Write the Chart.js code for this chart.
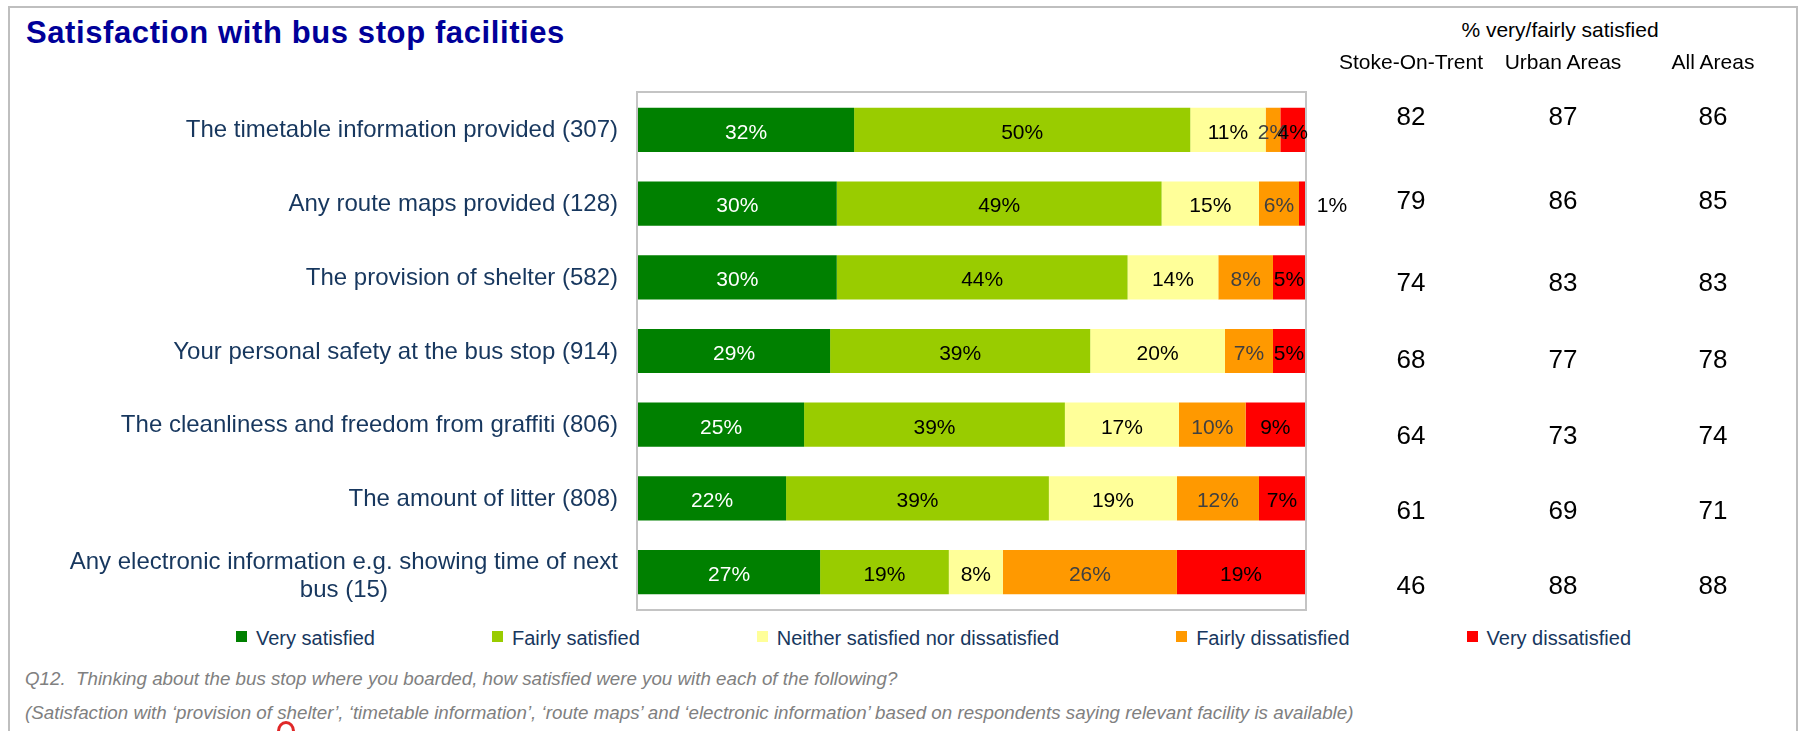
<!DOCTYPE html>
<html>
<head>
<meta charset="utf-8">
<script src="https://cdn.jsdelivr.net/npm/chart.js@4.4.1/dist/chart.umd.min.js"></script>
<style>
  html, body { margin: 0; padding: 0; }
  body {
    width: 1804px; height: 731px; overflow: hidden; position: relative;
    background: #fff; font-family: "Liberation Sans", Arial, sans-serif;
  }
  #frame {
    position: absolute; left: 8px; top: 6px; width: 1786px; height: 760px;
    border-left: 2px solid #bfbfbf; border-top: 2px solid #bfbfbf; border-right: 2px solid #bfbfbf;
  }
  #title {
    position: absolute; left: 26px; top: 17px; line-height: 1;
    font-size: 31px; font-weight: bold; color: #000099; letter-spacing: 0.6px; white-space: nowrap;
  }
  #chart { position: absolute; left: 0; top: 0; }
  .cell { position: absolute; width: 240px; text-align: center; line-height: 1; white-space: nowrap; color: #000; }
  .hdr { font-size: 21px; }
  .num { font-size: 26px; }
  #legend {
    position: absolute; left: 236px; top: 628px; display: flex; gap: 117px;
    font-size: 20px; line-height: 1; color: #17375e; white-space: nowrap;
  }
  #legend .item { display: flex; align-items: center; }
  #legend .box { width: 11px; height: 11px; margin-right: 9px; margin-top: -3px; }
  .note { position: absolute; left: 25px; font-size: 18.75px; line-height: 1; font-style: italic; color: #808080; white-space: nowrap; }
  #mark {
    position: absolute; left: 277px; top: 721px; width: 12px; height: 14px;
    border: 3px solid #e02828; border-radius: 50%;
  }
</style>
</head>
<body>
<div id="frame"></div>
<div id="title">Satisfaction with bus stop facilities</div>
<canvas id="chart" width="1360" height="620"></canvas>
<div id="table"></div>
<div id="legend"></div>
<div class="note" style="top:670px">Q12.&nbsp; Thinking about the bus stop where you boarded, how satisfied were you with each of the following?</div>
<div class="note" style="top:704px">(Satisfaction with ‘provision of shelter’, ‘timetable information’, ‘route maps’ and ‘electronic information’ based on respondents saying relevant facility is available)</div>
<div id="mark"></div>

<script>
// categories (base sizes in brackets)
const categories = [
  "The timetable information provided (307)",
  "Any route maps provided (128)",
  "The provision of shelter (582)",
  "Your personal safety at the bus stop (914)",
  "The cleanliness and freedom from graffiti (806)",
  "The amount of litter (808)",
  ["Any electronic information e.g. showing time of next", "bus (15)"]
];

// shares in % (labels show them rounded)
const verySatisfied      = [32.4, 29.8, 29.8, 28.8, 24.9, 22.2, 27.3];
const fairlySatisfied    = [50.4, 48.7, 43.6, 39.0, 39.1, 39.4, 19.3];
const neither            = [11.3, 14.6, 13.6, 20.2, 17.1, 19.2, 8.1];
const fairlyDissatisfied = [2.2, 6.0, 8.2, 7.2, 10.0, 12.3, 26.1];
const veryDissatisfied   = [3.7, 0.9, 4.8, 4.8, 8.9, 6.9, 19.2];

// % very/fairly satisfied table
const tableColumns = ["Stoke-On-Trent", "Urban Areas", "All Areas"];
const stokeOnTrent = [82, 79, 74, 68, 64, 61, 46];
const urbanAreas   = [87, 86, 83, 77, 73, 69, 88];
const allAreas     = [86, 85, 83, 78, 74, 71, 88];

const FONT = '"Liberation Sans", Arial, sans-serif';

const barText = {
  id: 'barText',
  afterDatasetsDraw(chart) {
    const { ctx, chartArea, scales: { y } } = chart;
    ctx.save();

    // plot frame
    ctx.strokeStyle = '#c4c4c4';
    ctx.lineWidth = 2;
    ctx.strokeRect(chartArea.left - 1, chartArea.top - 1, chartArea.width + 2, chartArea.height + 2);

    // category labels
    ctx.font = '24px ' + FONT;
    ctx.fillStyle = '#17375e';
    ctx.textBaseline = 'middle';
    const lx = chartArea.left - 20;
    categories.forEach((cat, i) => {
      const yc = y.getPixelForValue(i);
      if (Array.isArray(cat)) {
        const w = Math.max(...cat.map(s => ctx.measureText(s).width));
        ctx.textAlign = 'center';
        cat.forEach((s, j) => ctx.fillText(s, lx - w / 2, yc + 4 + (j - (cat.length - 1) / 2) * 28));
      } else {
        ctx.textAlign = 'right';
        ctx.fillText(cat, lx, yc + 1);
      }
    });

    // value labels
    ctx.font = '21px ' + FONT;
    ctx.textAlign = 'center';
    chart.data.datasets.forEach((ds, di) => {
      chart.getDatasetMeta(di).data.forEach((bar, i) => {
        const w = Math.abs(bar.x - bar.base);
        let cx = (bar.x + bar.base) / 2;
        if (w < 8) cx = bar.x + 27;
        ctx.fillStyle = ds.labelColor;
        ctx.fillText(Math.round(ds.data[i]) + '%', cx, bar.y + 3);
      });
    });
    ctx.restore();
  }
};

const chart = new Chart(document.getElementById('chart'), {
  type: 'bar',
  data: {
    labels: categories,
    datasets: [
      { label: 'Very satisfied', data: verySatisfied, backgroundColor: '#008000', labelColor: '#ffffff' },
      { label: 'Fairly satisfied', data: fairlySatisfied, backgroundColor: '#99cc00', labelColor: '#000000' },
      { label: 'Neither satisfied nor dissatisfied', data: neither, backgroundColor: '#ffff99', labelColor: '#000000' },
      { label: 'Fairly dissatisfied', data: fairlyDissatisfied, backgroundColor: '#ff9900', labelColor: '#404040' },
      { label: 'Very dissatisfied', data: veryDissatisfied, backgroundColor: '#ff0000', labelColor: '#000000' }
    ]
  },
  options: {
    indexAxis: 'y',
    responsive: false,
    animation: false,
    devicePixelRatio: 1,
    barPercentage: 0.6,
    categoryPercentage: 1.0,
    layout: { padding: { left: 638, top: 93, right: 55, bottom: 11 } },
    scales: {
      x: { stacked: true, min: 0, max: 100, display: false },
      y: { stacked: true, display: false }
    },
    plugins: {
      legend: { display: false },
      tooltip: { enabled: false }
    }
  },
  plugins: [barText]
});

// legend built from the datasets
const legend = document.getElementById('legend');
chart.data.datasets.forEach(ds => {
  const item = document.createElement('div');
  item.className = 'item';
  item.innerHTML = `<span class="box" style="background:${ds.backgroundColor}"></span><span>${ds.label}</span>`;
  legend.appendChild(item);
});

// side table
const table = document.getElementById('table');
const colX = [1411, 1563, 1713];
const rowY = [116, 200, 282, 359, 435, 510, 585];
const addCell = (text, cls, x, yc, size) => {
  const d = document.createElement('div');
  d.className = 'cell ' + cls;
  d.style.left = (x - 120) + 'px';
  d.style.top = (yc - size / 2) + 'px';
  d.textContent = text;
  table.appendChild(d);
};
addCell('% very/fairly satisfied', 'hdr', 1560, 29.5, 21);
tableColumns.forEach((c, j) => addCell(c, 'hdr', colX[j], 61, 21));
[stokeOnTrent, urbanAreas, allAreas].forEach((col, j) => {
  col.forEach((v, i) => addCell(v, 'num', colX[j], rowY[i], 26));
});
</script>
</body>
</html>
